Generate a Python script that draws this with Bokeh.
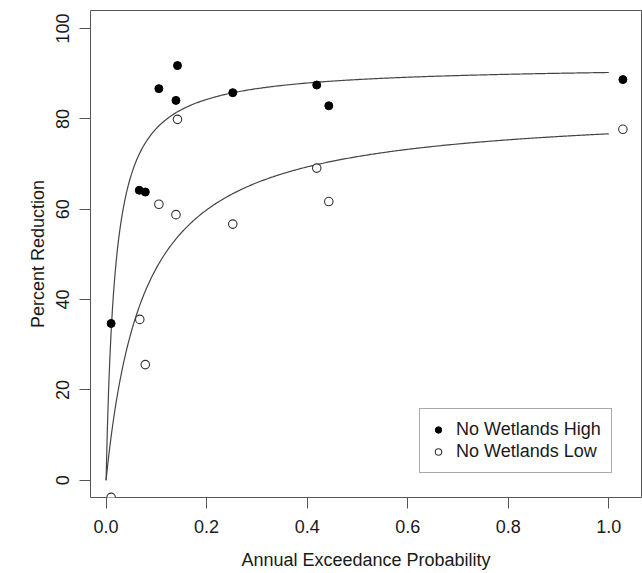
import numpy as np
from bokeh.plotting import figure
from bokeh.models import Range1d, FixedTicker, Legend, LegendItem
from bokeh.embed import file_html
from bokeh.resources import INLINE

# Data
high_x = [0.010, 0.066, 0.078, 0.105, 0.139, 0.142, 0.252, 0.419, 0.443, 1.028]
high_y = [34.7, 64.2, 63.8, 86.7, 84.1, 91.8, 85.8, 87.5, 82.9, 88.7]
low_x = [0.010, 0.067, 0.078, 0.105, 0.139, 0.142, 0.252, 0.419, 0.443, 1.028]
low_y = [-3.8, 35.6, 25.6, 61.1, 58.8, 79.9, 56.7, 69.1, 61.7, 77.7]

# Fitted saturation curves y = a*x/(b+x), parameters
high_fit = {"a": 91.9, "b": 0.018}
low_fit = {"a": 82.5, "b": 0.0757}

x_ticks = [0.0, 0.2, 0.4, 0.6, 0.8, 1.0]
x_tick_labels = ["0.0", "0.2", "0.4", "0.6", "0.8", "1.0"]
y_ticks = [0, 20, 40, 60, 80, 100]
y_tick_labels = ["0", "20", "40", "60", "80", "100"]

FONT = "Liberation Sans"
TXT = "#1a1a1a"
LINE = "#555555"

p = figure(width=642, height=573, output_backend="svg", toolbar_location=None,
           x_range=Range1d(-0.031, 1.065), y_range=Range1d(-3.83, 104.0),
           min_border_left=90, min_border_right=1, min_border_top=10, min_border_bottom=76)
p.background_fill_color = "white"
p.border_fill_color = "white"
p.outline_line_color = LINE
p.outline_line_width = 1
p.xgrid.visible = False
p.ygrid.visible = False

# curves
xc = np.linspace(0, 1, 400)
p.line(xc, high_fit["a"] * xc / (high_fit["b"] + xc), line_color="#444444", line_width=1.2)
p.line(xc, low_fit["a"] * xc / (low_fit["b"] + xc), line_color="#444444", line_width=1.2)

r_high = p.scatter(high_x, high_y, size=8, fill_color="black", line_color="black", line_width=1)
r_low = p.scatter(low_x, low_y, size=8.5, fill_color="white", line_color="#333333", line_width=1.1)

for ax in (p.xaxis[0], p.yaxis[0]):
    ax.axis_line_color = None
    ax.major_tick_line_color = LINE
    ax.major_tick_out = 11
    ax.major_tick_in = 0
    ax.minor_tick_line_color = None
    ax.major_label_text_font = FONT
    ax.major_label_text_font_size = "18px"
    ax.major_label_text_color = TXT
    ax.axis_label_text_font = FONT
    ax.axis_label_text_font_size = "18px"
    ax.axis_label_text_font_style = "normal"
    ax.axis_label_text_color = TXT

p.xaxis.ticker = FixedTicker(ticks=x_ticks)
p.xaxis.major_label_overrides = {t: l for t, l in zip(x_ticks, x_tick_labels)}
p.xaxis.axis_label = "Annual Exceedance Probability"
p.xaxis.major_label_standoff = 11
p.xaxis.axis_label_standoff = 14

p.yaxis.ticker = FixedTicker(ticks=y_ticks)
p.yaxis.major_label_overrides = {t: l for t, l in zip(y_ticks, y_tick_labels)}
p.yaxis.axis_label = "Percent Reduction"
p.yaxis.major_label_orientation = "vertical"
p.yaxis.major_label_standoff = 10
p.yaxis.axis_label_standoff = 6

legend = Legend(items=[LegendItem(label="No Wetlands High", renderers=[r_high]),
                       LegendItem(label="No Wetlands Low", renderers=[r_low])],
                location=(329, 24))
legend.label_text_font = FONT
legend.label_text_font_size = "18px"
legend.label_text_color = TXT
legend.border_line_color = LINE
legend.border_line_width = 1
legend.background_fill_color = "white"
legend.background_fill_alpha = 1
legend.padding = 10
legend.spacing = 1
legend.label_height = 21
legend.glyph_height = 21
legend.glyph_width = 16
legend.label_standoff = 10
legend.margin = 0
p.add_layout(legend, "center")

open("out.html", "w").write(file_html(p, INLINE))
